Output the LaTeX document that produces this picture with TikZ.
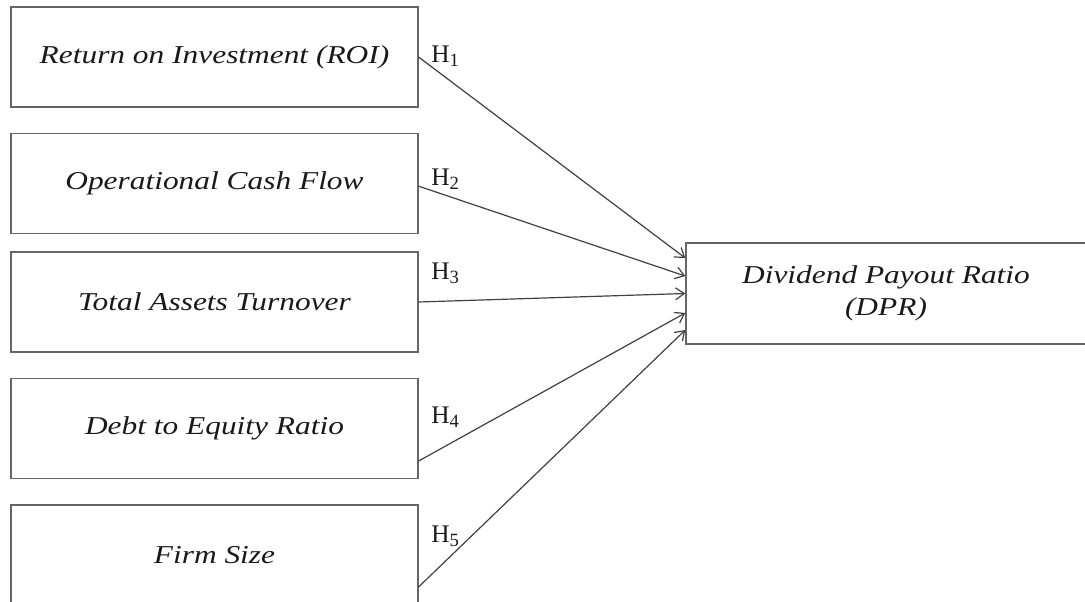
\documentclass[tikz,border=0pt]{standalone}
\usepackage{fontspec}
\setmainfont{Liberation Serif}
\newfontfamily\varfont[FakeStretch=1.22]{Liberation Serif}
\usepackage{tikz}
\usetikzlibrary{arrows,arrows.meta,calc}

\tikzset{
    var/.style={draw=black!60, line width=1.1pt, minimum width=305pt, minimum height=75pt,
        inner sep=0pt, font=\varfont\fontsize{19.3}{22}\selectfont\itshape, text=black!90, align=center},
    hyp/.style={anchor=west, inner sep=0pt, font=\fontsize{19}{22}\selectfont, text=black!90},
    path/.style={draw=black!75, line width=0.9pt, -{Straight Barb[length=6.5pt,width=9pt]}}
}
\newcommand{\hsub}[1]{H\raisebox{-0.35ex}{\fontsize{14}{16}\selectfont #1}}

\begin{document}
\begin{tikzpicture}[x=0.75pt, y=-0.75pt]
            \useasboundingbox (0,0) rectangle (1085,602);
            \node[var] at (214.5,57) (ROI) {Return on Investment (ROI)};
            \node[var] at (214.5,183.5) (OCF) {Operational Cash Flow};
            \node[var] at (214.5,302) (TAT) {Total Assets Turnover};
            \node[var] at (214.5,428.5) (DER) {Debt to Equity Ratio};
            \node[var] at (214.5,555) (FS) {Firm Size};
            \node[var, minimum width=300pt, minimum height=76pt] at (886,293.5) (DPR) {Dividend Payout Ratio\\[2pt](DPR)};

            \node[hyp] at (431,56) (h1) {\hsub{1}};
            \node[hyp] at (431,179) (h2) {\hsub{2}};
            \node[hyp] at (431,273) (h3) {\hsub{3}};
            \node[hyp] at (431,417) (h4) {\hsub{4}};
            \node[hyp] at (431,536) (h5) {\hsub{5}};

            \draw[path] (ROI.east) -- ([yshift=26.6pt]DPR.west);
            \draw[path] ([yshift=-2pt]OCF.east) -- ([yshift=13.1pt]DPR.west);
            \draw[path] (TAT.east) -- (DPR.west);
            \draw[path] ([yshift=-24.4pt]DER.east) -- ([yshift=-14.6pt]DPR.west);
            \draw[path] ([yshift=-24pt]FS.east) -- ([yshift=-27.4pt]DPR.west);
        \end{tikzpicture}
\end{document}
